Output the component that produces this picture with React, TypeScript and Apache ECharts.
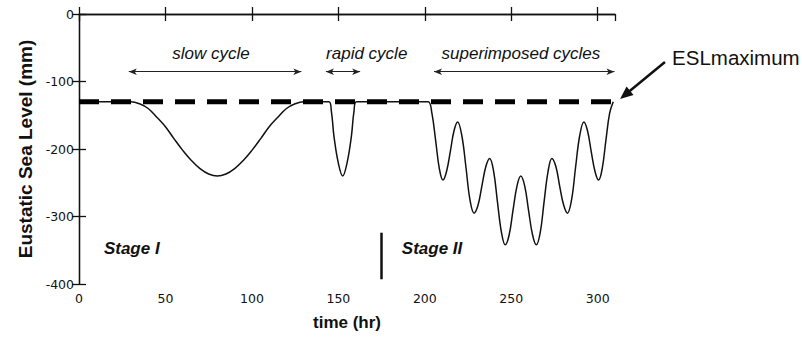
import React, { useEffect, useRef } from 'react';
import * as echarts from 'echarts';

// ---- axes ----
const X_MIN = 0;
const X_MAX = 310;
const X_STEP = 50;
const Y_MIN = -400;
const Y_MAX = 0;
const Y_STEP = 100;

// ---- ESL maximum (mm) ----
const ESL_MAX = -130;

// ---- eustatic sea level curve, [time (hr), level (mm)] ----
const stageIStart = [[0, -130], [15, -130], [30, -130]];
const slowCycle = [
  [35, -133], [40, -140], [45, -153], [50, -167], [55, -185], [60, -202], [65, -217],
  [70, -229], [75, -237], [80, -240], [85, -237], [90, -229], [95, -217], [100, -202],
  [105, -185], [110, -167], [115, -153], [120, -140], [125, -133], [130, -130],
];
const flatBeforeRapid = [[137, -130], [144.5, -130]];
const rapidCycle = [
  [146, -145], [147.5, -182], [150, -221], [152.5, -240], [155, -221], [157.5, -182],
  [159, -145], [160.5, -130],
];
const flatBeforeSuper = [[170, -130], [180, -130], [190, -130], [198, -130], [202, -130]];
const superimposedCycles = [
  [204.1, -147], [206.3, -188], [208.4, -229], [210.5, -246],
  [212.6, -233], [214.8, -203], [216.9, -173], [219, -160],
  [221.4, -180], [223.8, -227], [226.1, -275], [228.5, -295],
  [230.8, -283], [233, -255], [235.3, -226], [237.5, -214],
  [239.8, -233], [242, -278], [244.3, -323], [246.5, -342],
  [248.8, -327], [251, -291], [253.3, -255], [255.5, -240],
  [257.8, -255], [260, -291], [262.3, -327], [264.5, -342],
  [266.8, -323], [269, -278], [271.3, -233], [273.5, -214],
  [275.8, -226], [278, -255], [280.3, -283], [282.5, -295],
  [284.9, -275], [287.2, -227], [289.6, -180], [292, -160],
  [294.1, -173], [296.2, -203], [298.4, -233], [300.5, -246],
  [302.6, -229], [304.7, -188], [306.9, -147], [309, -130],
];

// ---- annotations (data coordinates) ----
const cycleLabels = [
  { text: 'slow cycle', x: 76.3, y: -58 },
  { text: 'rapid cycle', x: 166.4, y: -58 },
  { text: 'superimposed cycles', x: 255.6, y: -58 },
];
const cycleArrows = [
  { from: 28.8, to: 128.6, y: -85.5 },
  { from: 142.8, to: 162.6, y: -85.5 },
  { from: 205.3, to: 309.7, y: -85.5 },
];
const stageLabels = [
  { text: 'Stage I', x: 14.4, y: -348 },
  { text: 'Stage II', x: 186.7, y: -348 },
];
const stageDivider = { x: 175, y0: -324, y1: -393 };
const eslLabel = { text: 'ESLmaximum', x: 343, y: -65 };
const eslArrow = { fromX: 338.9, fromY: -71.1, toX: 312.9, toY: -125.9 };

const FONT = '"Liberation Sans", Arial, Helvetica, sans-serif';

export default function App() {
  const ref = useRef<HTMLDivElement>(null);

  useEffect(() => {
    document.body.style.margin = '0';
    if (!ref.current) return;
    const chart = echarts.init(ref.current, undefined, { renderer: 'svg' });

    const curve = [
      ...stageIStart,
      ...slowCycle,
      ...flatBeforeRapid,
      ...rapidCycle,
      ...flatBeforeSuper,
      ...superimposedCycles,
    ];

    const axisLine = { show: true, lineStyle: { color: '#111', width: 1.3 } };
    const tick = { show: true, inside: true, length: 7, lineStyle: { color: '#111', width: 1.3 } };
    const tickLabel = {
      color: '#111',
      fontFamily: '"DejaVu Sans", sans-serif',
      fontSize: 12.5,
      showMaxLabel: false,
    };

    chart.setOption({
      animation: false,
      backgroundColor: '#fff',
      grid: { left: 79, right: 187, top: 14, bottom: 53, containLabel: false },
      xAxis: [
        {
          type: 'value',
          min: X_MIN,
          max: X_MAX,
          interval: X_STEP,
          position: 'bottom',
          axisLine,
          axisTick: tick,
          splitLine: { show: false },
          axisLabel: { ...tickLabel, margin: 8 },
          name: 'time (hr)',
          nameLocation: 'middle',
          nameGap: 30,
          nameTextStyle: { color: '#111', fontFamily: FONT, fontWeight: 'bold', fontSize: 17 },
        },
        {
          type: 'value',
          min: X_MIN,
          max: X_MAX,
          interval: X_STEP,
          position: 'top',
          axisLine,
          axisTick: tick,
          splitLine: { show: false },
          axisLabel: { show: false },
        },
      ],
      yAxis: [
        {
          type: 'value',
          min: Y_MIN,
          max: Y_MAX,
          interval: Y_STEP,
          position: 'left',
          axisLine,
          axisTick: tick,
          splitLine: { show: false },
          axisLabel: { ...tickLabel, showMaxLabel: true, margin: 5 },
          name: 'Eustatic Sea Level (mm)',
          nameLocation: 'middle',
          nameGap: 42,
          nameTextStyle: { color: '#111', fontFamily: FONT, fontWeight: 'bold', fontSize: 19 },
        },
        {
          type: 'value',
          min: Y_MIN,
          max: Y_MAX,
          interval: Y_STEP,
          position: 'right',
          axisLine,
          axisTick: tick,
          splitLine: { show: false },
          axisLabel: { show: false },
        },
      ],
      series: [
        {
          type: 'line',
          name: 'Eustatic sea level',
          data: curve,
          smooth: 0.4,
          showSymbol: false,
          symbol: 'none',
          lineStyle: { color: '#111', width: 1.5 },
          z: 3,
          markLine: {
            silent: true,
            animation: false,
            label: { show: false },
            data: [
              ...cycleArrows.map((a) => [
                { coord: [a.from, a.y], symbol: 'arrow', symbolSize: [5, 8] },
                { coord: [a.to, a.y], symbol: 'arrow', symbolSize: [5, 8] },
              ]),
              [
                { coord: [stageDivider.x, stageDivider.y0], symbol: 'none', lineStyle: { color: '#111', width: 2.5, type: 'solid' } },
                { coord: [stageDivider.x, stageDivider.y1], symbol: 'none' },
              ],
            ],
            lineStyle: { color: '#222', width: 1, type: 'solid' },
          },
        },
        {
          type: 'line',
          name: 'ESL maximum',
          data: [[X_MIN, ESL_MAX], [X_MAX, ESL_MAX]],
          showSymbol: false,
          symbol: 'none',
          lineStyle: { color: '#000', width: 5, type: [20, 12] },
          z: 4,
        },
      ],
    });

    const px = (x: number, y: number) => chart.convertToPixel({ xAxisIndex: 0, yAxisIndex: 0 }, [x, y]) as number[];

    const graphics: any[] = [];
    cycleLabels.forEach((l) => {
      const [x, y] = px(l.x, l.y);
      graphics.push({
        type: 'text',
        x,
        y,
        style: {
          text: l.text,
          fill: '#111',
          font: `italic 17px ${FONT}`,
          textAlign: 'center',
          textVerticalAlign: 'middle',
        },
      });
    });
    stageLabels.forEach((l) => {
      const [x, y] = px(l.x, l.y);
      graphics.push({
        type: 'text',
        x,
        y,
        style: {
          text: l.text,
          fill: '#111',
          font: `italic bold 17px ${FONT}`,
          textAlign: 'left',
          textVerticalAlign: 'middle',
        },
      });
    });
    {
      const [x, y] = px(eslLabel.x, eslLabel.y);
      graphics.push({
        type: 'text',
        x,
        y,
        style: {
          text: eslLabel.text,
          fill: '#111',
          font: `20.5px ${FONT}`,
          textAlign: 'left',
          textVerticalAlign: 'middle',
        },
      });
    }
    {
      const [x0, y0] = px(eslArrow.fromX, eslArrow.fromY);
      const [x1, y1] = px(eslArrow.toX, eslArrow.toY);
      const dx = x1 - x0;
      const dy = y1 - y0;
      const len = Math.hypot(dx, dy);
      const ux = dx / len;
      const uy = dy / len;
      const headLen = 13;
      const headHalf = 5.5;
      const bx = x1 - ux * headLen;
      const by = y1 - uy * headLen;
      const nx = -uy;
      const ny = ux;
      graphics.push({
        type: 'line',
        shape: { x1: x0, y1: y0, x2: bx + ux * 2, y2: by + uy * 2 },
        style: { stroke: '#111', lineWidth: 2.5 },
      });
      graphics.push({
        type: 'polygon',
        shape: {
          points: [
            [x1, y1],
            [bx + nx * headHalf, by + ny * headHalf],
            [bx - nx * headHalf, by - ny * headHalf],
          ],
        },
        style: { fill: '#111' },
      });
    }

    chart.setOption({ graphic: graphics });

    return () => chart.dispose();
  }, []);

  return <div ref={ref} style={{ width: 802, height: 337 }} />;
}
